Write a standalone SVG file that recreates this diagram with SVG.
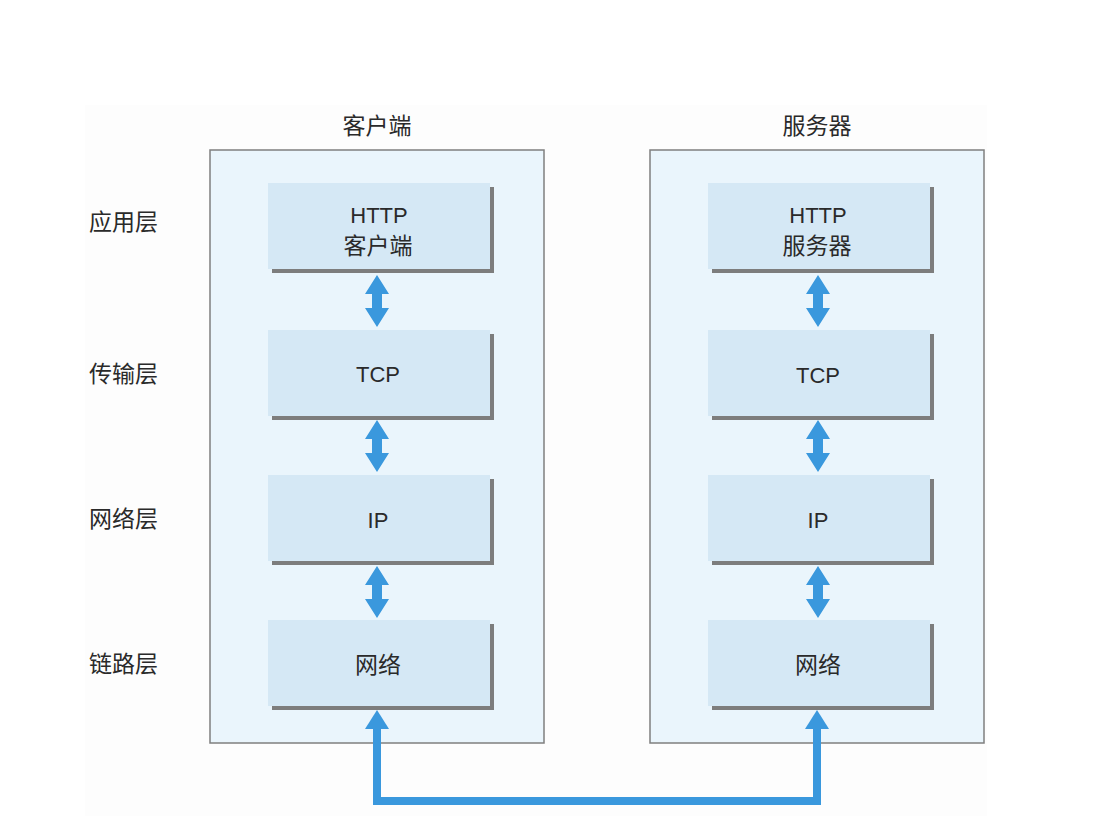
<svg xmlns="http://www.w3.org/2000/svg" width="1102" height="816" viewBox="0 0 1102 816">
<defs>
<style>
.t{font-family:"Liberation Sans","Noto Sans CJK SC",sans-serif;font-size:22px;fill:#2a2a2a;text-anchor:middle}
.c{font-family:"Noto Sans CJK SC",sans-serif;font-size:23px;fill:#2a2a2a;text-anchor:middle}
.lbl{font-family:"Noto Sans CJK SC",sans-serif;font-size:23px;fill:#2a2a2a}
.outer{fill:#eaf5fc;stroke:#7f7f7f;stroke-width:1.5}
.inner{fill:#d5e8f5}
.shadow{fill:#7d7d7d}
.arr{fill:#3a98dd}
.wire{fill:none;stroke:#3a98dd;stroke-width:8;stroke-linejoin:miter}
</style>
<g id="dbl"><path class="arr" d="M0,0 L12,19 L5,19 L5,33 L12,33 L0,52 L-12,33 L-5,33 L-5,19 L-12,19 Z"/></g>
<g id="up"><path class="arr" d="M0,0 L12,19 L-12,19 Z"/></g>
</defs>
<rect x="0" y="0" width="1102" height="816" fill="#ffffff"/>
<rect x="85" y="105" width="902" height="711" fill="#fdfdfd"/>

<g id="layer-labels">
<text class="lbl" x="89" y="230">应用层</text>
<text class="lbl" x="89" y="382">传输层</text>
<text class="lbl" x="89" y="527">网络层</text>
<text class="lbl" x="89" y="672">链路层</text>
</g>

<g id="client">
<text class="c" x="377" y="134">客户端</text>
<rect class="outer" x="210" y="150" width="334" height="593"/>
</g>
<g id="server">
<text class="c" x="817" y="134">服务器</text>
<rect class="outer" x="650" y="150" width="334" height="593"/>
</g>

<g id="client-http"><rect class="shadow" x="272" y="187" width="222" height="86"/><rect class="inner" x="268" y="183" width="222" height="86"/><text class="t" x="379" y="223">HTTP</text><text class="c" x="378" y="254">客户端</text></g>
<g id="client-tcp"><rect class="shadow" x="272" y="334" width="222" height="86"/><rect class="inner" x="268" y="330" width="222" height="86"/><text class="t" x="378" y="382">TCP</text></g>
<g id="client-ip"><rect class="shadow" x="272" y="479" width="222" height="86"/><rect class="inner" x="268" y="475" width="222" height="86"/><text class="t" x="378" y="528">IP</text></g>
<g id="client-net"><rect class="shadow" x="272" y="624" width="222" height="86"/><rect class="inner" x="268" y="620" width="222" height="86"/><text class="c" x="378" y="673">网络</text></g>

<g id="server-http"><rect class="shadow" x="712" y="187" width="222" height="86"/><rect class="inner" x="708" y="183" width="222" height="86"/><text class="t" x="818" y="223">HTTP</text><text class="c" x="817" y="254">服务器</text></g>
<g id="server-tcp"><rect class="shadow" x="712" y="334" width="222" height="86"/><rect class="inner" x="708" y="330" width="222" height="86"/><text class="t" x="818" y="383">TCP</text></g>
<g id="server-ip"><rect class="shadow" x="712" y="479" width="222" height="86"/><rect class="inner" x="708" y="475" width="222" height="86"/><text class="t" x="818" y="528">IP</text></g>
<g id="server-net"><rect class="shadow" x="712" y="624" width="222" height="86"/><rect class="inner" x="708" y="620" width="222" height="86"/><text class="c" x="818" y="673">网络</text></g>

<g id="connectors">
<use href="#dbl" x="377" y="275"/>
<use href="#dbl" x="377" y="420"/>
<use href="#dbl" x="377" y="566"/>
<use href="#dbl" x="818" y="275"/>
<use href="#dbl" x="818" y="420"/>
<use href="#dbl" x="818" y="566"/>
<polyline class="wire" points="377,727 377,801 817,801 817,727"/>
<use href="#up" x="377" y="710"/>
<use href="#up" x="817" y="710"/>
</g>
</svg>
